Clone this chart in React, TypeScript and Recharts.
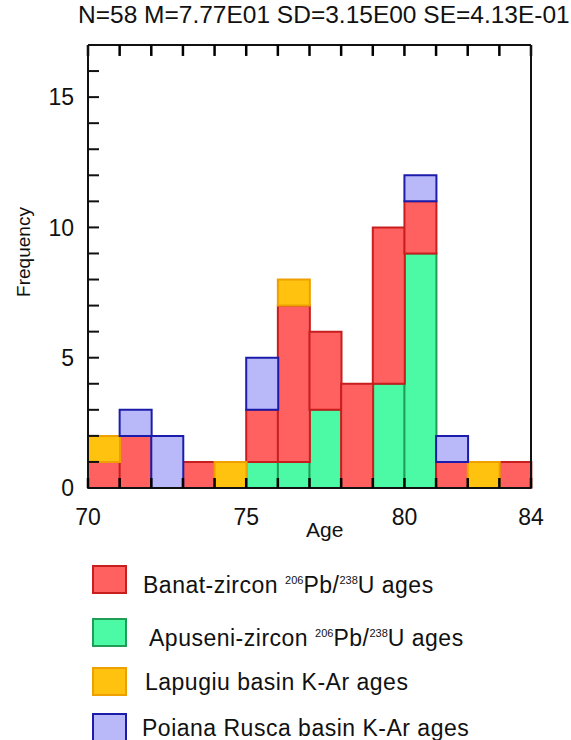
import { Bar, BarChart, ReferenceLine, XAxis, YAxis } from "recharts";

// one bin per million years, 70-71 ... 83-84
const bins = ["70", "71", "72", "73", "74", "75", "76", "77", "78", "79", "80", "81", "82", "83"];
const apuseni = [0, 0, 0, 0, 0, 1, 1, 3, 0, 4, 9, 0, 0, 0];
const banat = [1, 2, 0, 1, 0, 2, 6, 3, 4, 6, 2, 1, 0, 1];
const lapugiu = [1, 0, 0, 0, 1, 0, 1, 0, 0, 0, 0, 0, 1, 0];
const poiana = [0, 1, 2, 0, 0, 2, 0, 0, 0, 0, 1, 1, 0, 0];

const xTicks = [70, 71, 72, 73, 74, 75, 76, 77, 78, 79, 80, 81, 82, 83, 84];
const xLabels = [70, 75, 80, 84];
const yTicks = [0, 1, 2, 3, 4, 5, 6, 7, 8, 9, 10, 11, 12, 13, 14, 15, 16, 17];
const yLabels = [0, 5, 10, 15];
const yMax = 17;
const topTickLen = 0.42; // in frequency units, about 11px

const title = "N=58 M=7.77E01 SD=3.15E00 SE=4.13E-01";

const rows = bins.map((bin, i) => ({
  bin,
  start: Number(bin),
  apuseni: apuseni[i],
  banat: banat[i],
  lapugiu: lapugiu[i],
  poiana: poiana[i],
}));

const font = '"Liberation Sans", Arial, sans-serif';

const legendItems = [
  { fill: "#ff6060", stroke: "#c81e1e", name: "Banat-zircon", iso: true, left: 143 },
  { fill: "#4cfaa6", stroke: "#1f9e55", name: "Apuseni-zircon", iso: true, left: 149 },
  { fill: "#ffc20e", stroke: "#eea000", name: "Lapugiu basin K-Ar ages", iso: false, left: 145 },
  { fill: "#b9b9fa", stroke: "#1c1caa", name: "Poiana Rusca basin K-Ar ages", iso: false, left: 142 },
];
const legendTops = [565, 618, 667, 713];

const axisStroke = { stroke: "#111", strokeWidth: 2 };
const noLabel = () => "";

// bottom x ticks drawn by hand so they point inward, over the bars
function BottomTick(props: any) {
  const { x, y, payload } = props;
  const v = payload.value;
  return (
    <g>
      <line x1={x} x2={x} y1={y} y2={y - 10} stroke="#000" strokeWidth={2.5} />
      {xLabels.includes(v) && (
        <text x={x} y={y + 37} textAnchor="middle" fill="#111" fontSize={23} fontFamily={font}>
          {v}
        </text>
      )}
    </g>
  );
}

function LegendRows() {
  return (
    <>
      {legendItems.map((item, i) => (
        <div key={item.name}>
          <div
            style={{
              position: "absolute",
              left: 92,
              top: legendTops[i],
              width: 31,
              height: 25,
              background: item.fill,
              border: `2px solid ${item.stroke}`,
            }}
          />
          <div
            style={{
              position: "absolute",
              left: item.left,
              top: legendTops[i] + 1,
              fontSize: 23,
              letterSpacing: 0.5,
              lineHeight: "28px",
              whiteSpace: "nowrap",
              color: "#111",
            }}
          >
            {item.iso ? (
              <>
                {item.name} <sup style={{ fontSize: 11, letterSpacing: 0 }}>206</sup>Pb/
                <sup style={{ fontSize: 11, letterSpacing: 0 }}>238</sup>U ages
              </>
            ) : (
              item.name
            )}
          </div>
        </div>
      ))}
    </>
  );
}

export default function App() {
  return (
    <div
      style={{
        position: "absolute",
        left: 0,
        top: 0,
        width: 571,
        height: 740,
        overflow: "hidden",
        background: "#fff",
        fontFamily: font,
      }}
    >
      <div style={{ position: "absolute", left: 78, top: 1, fontSize: 24.5, whiteSpace: "nowrap", color: "#111" }}>
        {title}
      </div>
      <div
        style={{
          position: "absolute",
          left: 24,
          top: 252,
          fontSize: 19,
          color: "#111",
          whiteSpace: "nowrap",
          transform: "translate(-50%, -50%) rotate(-90deg)",
        }}
      >
        Frequency
      </div>
      <div style={{ position: "absolute", left: 306, top: 518, fontSize: 21, color: "#111" }}>Age</div>
      <div style={{ position: "absolute", left: 0, top: 0 }}>
        <BarChart
          width={571}
          height={560}
          data={rows}
          barCategoryGap={0}
          margin={{ top: 45, right: 0, bottom: 22, left: 0 }}
          style={{ fontFamily: font }}
        >
          <XAxis xAxisId="cat" dataKey="bin" hide height={0} />
          <YAxis
            yAxisId="left"
            type="number"
            domain={[0, yMax]}
            ticks={yTicks}
            width={88}
            interval={0}
            tickSize={-11}
            tickMargin={25}
            tickFormatter={(v) => (yLabels.includes(v) ? String(v) : "")}
            tick={{ fill: "#111", fontSize: 23 }}
            axisLine={axisStroke}
            tickLine={axisStroke}
          />
          <Bar xAxisId="cat" yAxisId="left" dataKey="apuseni" stackId="s" fill="#4cfaa6" stroke="#1f9e55" strokeWidth={2} isAnimationActive={false} />
          <Bar xAxisId="cat" yAxisId="left" dataKey="banat" stackId="s" fill="#ff6060" stroke="#c81e1e" strokeWidth={2} isAnimationActive={false} />
          <Bar xAxisId="cat" yAxisId="left" dataKey="lapugiu" stackId="s" fill="#ffc20e" stroke="#eea000" strokeWidth={2} isAnimationActive={false} />
          <Bar xAxisId="cat" yAxisId="left" dataKey="poiana" stackId="s" fill="#b9b9fa" stroke="#1c1caa" strokeWidth={2} isAnimationActive={false} />
          <YAxis
            yAxisId="right"
            orientation="right"
            type="number"
            domain={[0, yMax]}
            ticks={yTicks}
            width={40}
            interval={0}
            tickSize={-11}
            tickFormatter={noLabel}
            axisLine={axisStroke}
            tickLine={axisStroke}
          />
          <XAxis
            xAxisId="num"
            orientation="bottom"
            type="number"
            dataKey="start"
            domain={[70, 84]}
            allowDataOverflow
            ticks={xTicks}
            height={50}
            interval={0}
            tickSize={0}
            tickMargin={0}
            tickLine={false}
            tick={<BottomTick />}
            axisLine={axisStroke}
          />
          {/* top frame and its inward ticks */}
          <ReferenceLine xAxisId="num" yAxisId="left" y={yMax} stroke="#111" strokeWidth={2} ifOverflow="visible" />
          {xTicks.map((t) => (
            <ReferenceLine
              key={t}
              xAxisId="num"
              yAxisId="left"
              segment={[
                { x: t, y: yMax },
                { x: t, y: yMax - topTickLen },
              ]}
              stroke="#000"
              strokeWidth={2.5}
              ifOverflow="visible"
            />
          ))}
        </BarChart>
      </div>
      <LegendRows />
    </div>
  );
}
